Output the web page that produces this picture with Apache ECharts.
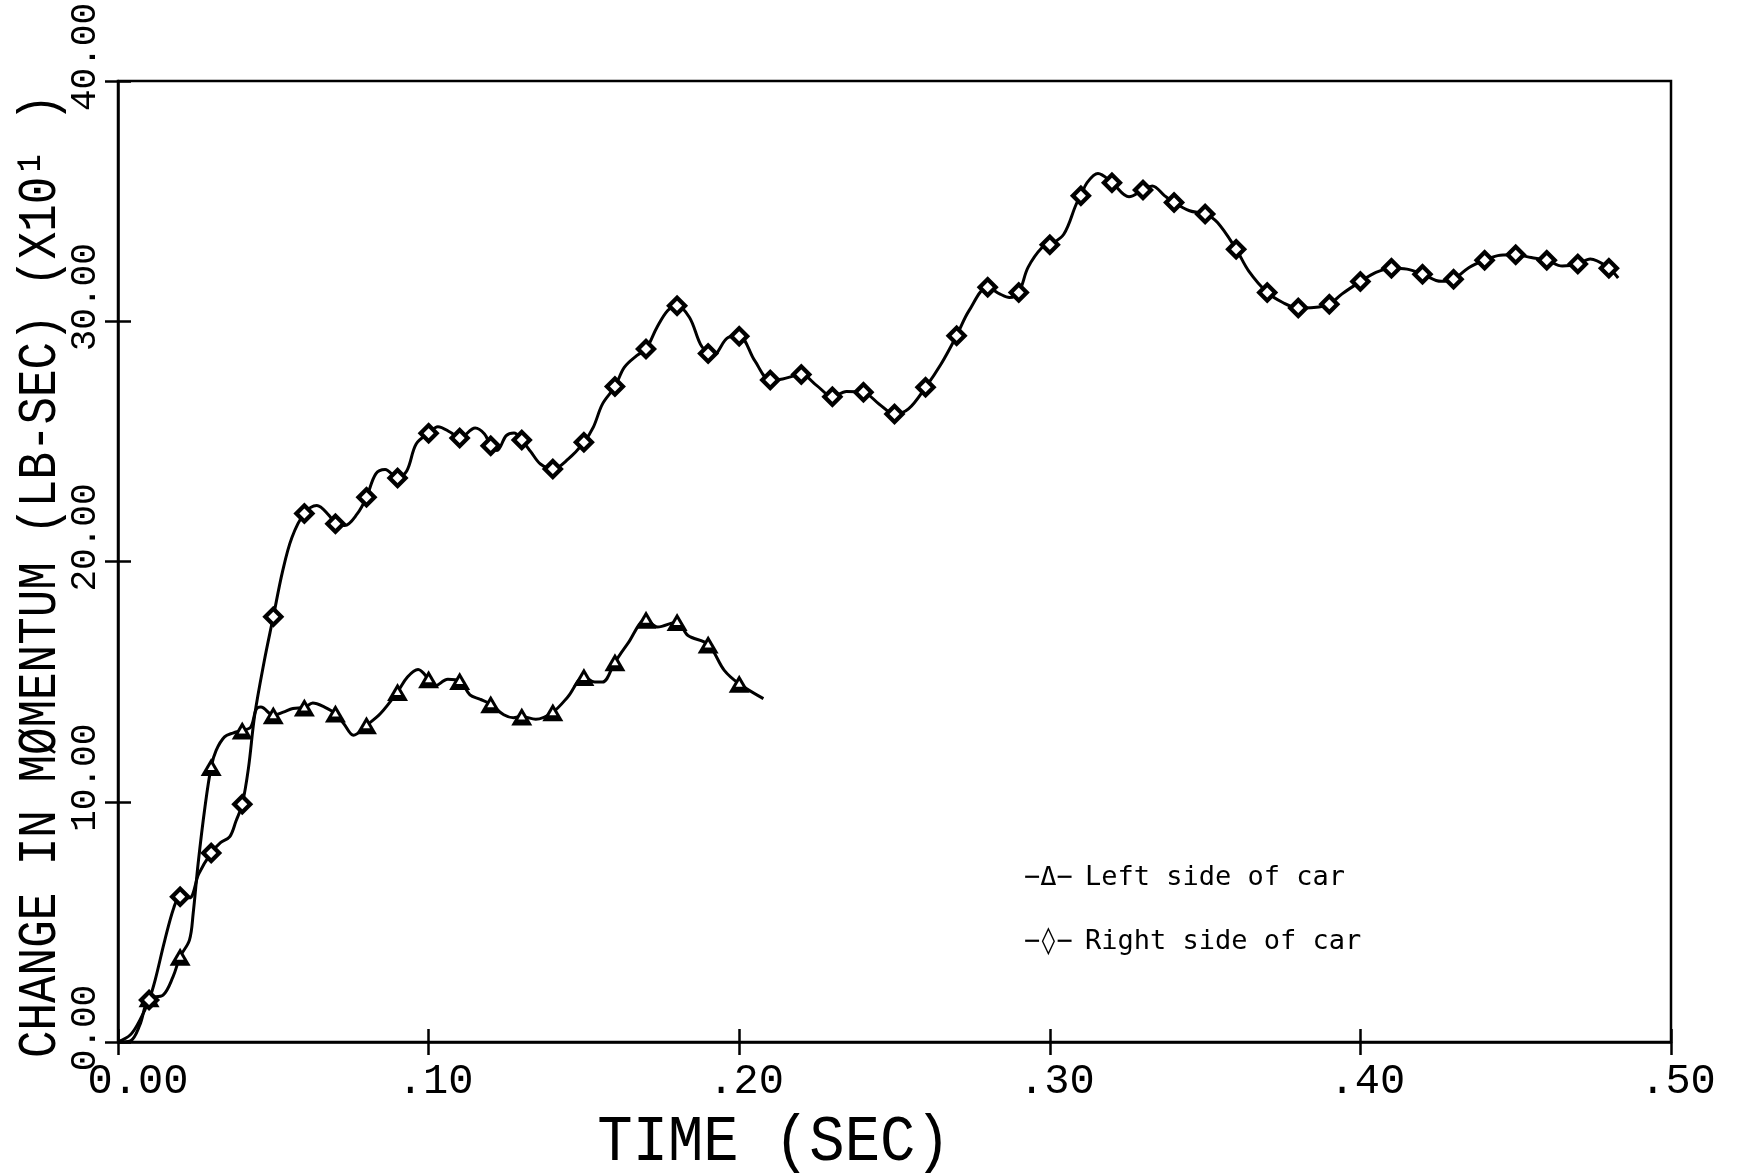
<!DOCTYPE html>
<html>
<head>
<meta charset="utf-8">
<script src="https://cdn.jsdelivr.net/npm/echarts@6/dist/echarts.min.js"></script>
<style>
html,body{margin:0;padding:0;background:#fff;}
#chart{width:1737px;height:1176px;}
</style>
</head>
<body>
<div id="chart"></div>
<script>
// ---- data (time in s, momentum change in lb-sec x10) ----
const xTickLabels = ['0.00', '.10', '.20', '.30', '.40', '.50'];
const yTickLabels = ['0.00', '10.00', '20.00', '30.00', '40.00'];
const xTitle = 'TIME (SEC)';
const yTitle = 'CHANGE IN M\u00D8MENTUM (LB-SEC) (X10\u00B9 )';
const seriesNames = ['Left side of car', 'Right side of car'];
const legendSymbols = ['\u2212\u0394\u2212', '\u2212\u25CA\u2212'];

// Left side of car (triangles)
const leftCurve = [
  [0.000,0.0],[0.004,0.05],[0.007,0.7],[0.010,1.82],[0.0145,1.95],[0.0177,2.71],[0.020,3.55],
  [0.023,4.24],[0.0242,5.35],[0.0258,7.43],[0.028,9.78],[0.030,11.45],[0.0316,12.14],[0.0343,12.7],
  [0.037,12.86],[0.040,12.97],[0.0427,13.1],[0.0445,13.85],[0.046,13.94],[0.050,13.6],[0.0532,13.73],
  [0.0563,13.88],[0.060,13.92],[0.0627,14.11],[0.0665,13.94],[0.070,13.67],[0.0727,13.25],[0.0758,12.77],
  [0.080,13.18],[0.0845,13.67],[0.090,14.57],[0.0932,15.19],[0.0966,15.5],[0.100,15.1],[0.1018,14.8],
  [0.1062,15.1],[0.110,15.03],[0.1133,14.45],[0.1165,14.27],[0.120,14.06],[0.1242,13.62],[0.1273,13.5],
  [0.130,13.55],[0.1345,13.43],[0.140,13.73],[0.1448,14.36],[0.150,15.19],[0.1535,14.98],[0.156,14.98],
  [0.160,15.81],[0.1641,16.58],[0.170,17.58],[0.1737,17.27],[0.180,17.48],[0.1835,16.92],[0.190,16.55],
  [0.1952,15.47],[0.200,14.91],[0.2078,14.29]
];

// Right side of car (diamonds)
const rightCurve = [
  [0.000,0.0],[0.004,0.3],[0.007,0.9],[0.010,1.75],[0.012,2.6],[0.015,4.2],[0.018,5.6],[0.020,6.05],
  [0.023,6.0],[0.026,7.0],[0.030,7.87],[0.033,8.3],[0.036,8.55],[0.038,9.2],[0.040,9.9],[0.042,11.4],
  [0.044,13.6],[0.047,15.8],[0.050,17.7],[0.053,19.6],[0.056,21.0],[0.060,22.0],
  [0.064,22.33],[0.068,21.91],[0.070,21.57],[0.073,21.5],[0.077,21.98],[0.080,22.67],[0.083,23.65],
  [0.086,23.83],[0.090,23.48],[0.093,23.78],[0.096,24.89],[0.100,25.34],[0.103,25.61],[0.107,25.38],
  [0.110,25.14],[0.115,25.56],[0.118,25.31],[0.120,24.82],[0.122,24.62],[0.125,25.24],[0.1275,25.35],
  [0.130,25.06],[0.133,24.55],[0.136,24.06],[0.140,23.85],[0.145,24.27],[0.150,24.96],[0.153,25.58],
  [0.156,26.56],[0.160,27.28],[0.163,28.08],[0.167,28.57],[0.170,28.84],[0.1735,29.74],[0.177,30.45],
  [0.180,30.65],[0.184,30.16],[0.1875,29.05],[0.190,28.66],[0.1915,28.57],[0.1965,29.33],[0.200,29.38],
  [0.205,28.36],[0.210,27.55],[0.214,27.6],[0.220,27.78],[0.225,27.32],[0.230,26.86],[0.2345,27.08],
  [0.240,27.04],[0.245,26.56],[0.250,26.14],[0.2545,26.35],[0.260,27.25],[0.265,28.22],[0.270,29.4],
  [0.274,30.44],[0.280,31.41],[0.284,31.13],[0.287,30.99],[0.290,31.2],[0.293,32.24],[0.2975,33.07],
  [0.300,33.18],[0.3045,33.62],[0.3085,34.87],[0.310,35.22],[0.312,35.77],[0.3155,36.15],[0.320,35.77],
  [0.3255,35.18],[0.330,35.46],[0.333,35.63],[0.337,35.22],[0.340,34.94],[0.345,34.6],[0.350,34.46],
  [0.354,34.11],[0.360,33.0],[0.364,32.1],[0.370,31.2],[0.375,30.78],[0.380,30.55],[0.385,30.57],
  [0.390,30.71],[0.394,31.13],[0.400,31.65],[0.405,32.03],[0.410,32.21],[0.415,32.17],[0.420,31.96],
  [0.426,31.66],[0.430,31.75],[0.435,32.24],[0.440,32.54],[0.445,32.75],[0.450,32.77],[0.455,32.65],
  [0.460,32.54],[0.465,32.3],[0.470,32.38],[0.474,32.59],[0.480,32.21],[0.483,31.8]
];

// markers are plotted at every 0.01 s sample of each curve
function markersOf(curve) {
  return curve.filter(p => p[0] > 0 && Math.abs(p[0] * 100 - Math.round(p[0] * 100)) < 1e-6);
}

const MONO = "'Liberation Mono', 'DejaVu Sans Mono', monospace";
const LEG = "'DejaVu Sans Mono', monospace";
const chart = echarts.init(document.getElementById('chart'), null, {renderer: 'canvas'});

const xAxisBase = {type: 'value', min: 0, max: 0.5, interval: 0.1, position: 'bottom', splitLine: {show: false}};
const yAxisBase = {type: 'value', min: 0, max: 40, interval: 10, position: 'left', splitLine: {show: false}};
const axisLineStyle = {color: '#000', width: 2.5};

function markerSeries(name, curve, symbol, size, color, z) {
  return {
    name: name, type: 'scatter', data: markersOf(curve), symbol: symbol, symbolSize: size,
    itemStyle: {color: color, opacity: 1, borderWidth: 0}, z: z, silent: true
  };
}

const option = {
  backgroundColor: '#fff',
  animation: false,
  grid: {left: 118, right: 66, top: 81, bottom: 134, show: true, borderColor: '#000', borderWidth: 2.5, outerBoundsMode: 'none'},
  xAxis: [
    Object.assign({}, xAxisBase, {
      axisLine: {show: true, lineStyle: axisLineStyle},
      axisTick: {show: true, inside: false, length: 13, lineStyle: axisLineStyle},
      axisLabel: {
        color: '#000', fontFamily: MONO, fontSize: 42, margin: 19,
        formatter: v => {
          const i = Math.round(v / 0.1);
          return (i === 0 ? '{z|' : '{n|') + xTickLabels[i] + '}';
        },
        rich: {
          z: {fontFamily: MONO, fontSize: 42, color: '#000', padding: [0, 0, 0, 40]},
          n: {fontFamily: MONO, fontSize: 42, color: '#000', padding: [0, 0, 0, 14]}
        }
      }
    }),
    Object.assign({}, xAxisBase, {
      axisLine: {show: false}, axisLabel: {show: false},
      axisTick: {show: true, inside: true, length: 13, lineStyle: axisLineStyle}
    })
  ],
  yAxis: [
    Object.assign({}, yAxisBase, {
      axisLine: {show: true, lineStyle: axisLineStyle},
      axisTick: {show: true, inside: false, length: 13, lineStyle: axisLineStyle},
      axisLabel: {
        color: '#000', fontFamily: MONO, fontSize: 36, margin: 15, rotate: 90,
        formatter: v => {
          const i = Math.round(v / 10);
          return (yTickLabels[i].length < 5 ? '{s|' : '{l|') + yTickLabels[i] + '}';
        },
        rich: {
          s: {fontFamily: MONO, fontSize: 36, color: '#000', padding: [0, 0, 0, 28]},
          l: {fontFamily: MONO, fontSize: 36, color: '#000', padding: [0, 0, 0, 48]}
        }
      }
    }),
    Object.assign({}, yAxisBase, {
      axisLine: {show: false}, axisLabel: {show: false},
      axisTick: {show: true, inside: true, length: 13, lineStyle: axisLineStyle}
    })
  ],
  series: [
    {
      name: seriesNames[0], type: 'line', data: leftCurve, smooth: 0.35,
      symbol: 'none', showSymbol: false, lineStyle: {color: '#000', width: 3}, z: 2
    },
    {
      name: seriesNames[1], type: 'line', data: rightCurve, smooth: 0.35,
      symbol: 'none', showSymbol: false, lineStyle: {color: '#000', width: 3}, z: 2
    },
    markerSeries(seriesNames[0] + ' markers', leftCurve, 'triangle', [21, 18], '#000', 3),
    markerSeries(seriesNames[0] + ' marker centres', leftCurve, 'triangle', [7, 6], '#fff', 4),
    markerSeries(seriesNames[1] + ' markers', rightCurve, 'diamond', [22, 22], '#000', 3),
    markerSeries(seriesNames[1] + ' marker centres', rightCurve, 'diamond', [10, 10], '#fff', 4)
  ],
  graphic: [
    {
      type: 'text', x: 41, y: 576, rotation: Math.PI / 2, scaleX: 0.85,
      style: {text: yTitle, font: "54px " + MONO, fill: '#000', textAlign: 'center', textVerticalAlign: 'middle'}
    },
    {
      type: 'text', x: 774, y: 1143, scaleX: 0.92,
      style: {text: xTitle, font: "64px " + MONO, fill: '#000', textAlign: 'center', textVerticalAlign: 'middle'}
    },
    {
      type: 'text', x: 1024, y: 878,
      style: {text: legendSymbols[0], font: "27px " + LEG, fill: '#000', textAlign: 'left', textVerticalAlign: 'middle'}
    },
    {
      type: 'text', x: 1085, y: 878,
      style: {text: seriesNames[0], font: "27px " + LEG, fill: '#000', textAlign: 'left', textVerticalAlign: 'middle'}
    },
    {
      type: 'text', x: 1024, y: 942,
      style: {text: legendSymbols[1], font: "27px " + LEG, fill: '#000', textAlign: 'left', textVerticalAlign: 'middle'}
    },
    {
      type: 'text', x: 1085, y: 942,
      style: {text: seriesNames[1], font: "27px " + LEG, fill: '#000', textAlign: 'left', textVerticalAlign: 'middle'}
    }
  ]
};
chart.setOption(option);
</script>
</body>
</html>
